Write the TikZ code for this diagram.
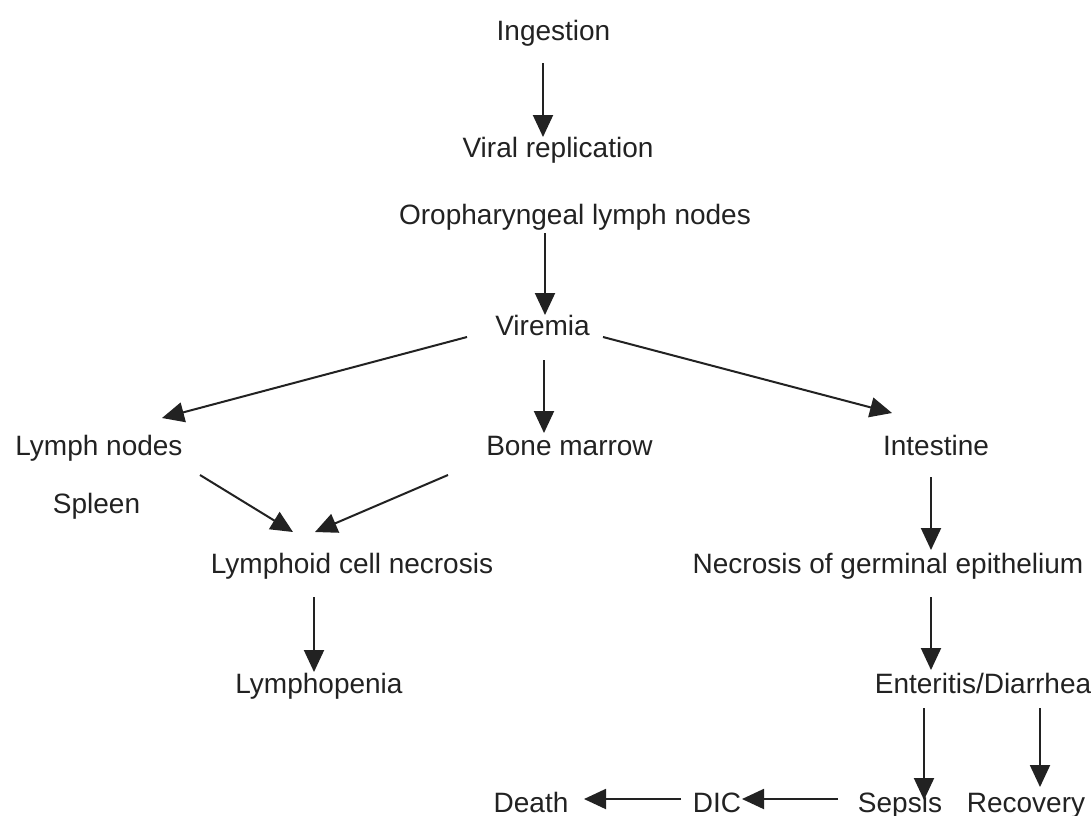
\documentclass[tikz,border=0pt]{standalone}
\usepackage{fontspec}
\setmainfont{Liberation Sans}
\usetikzlibrary{arrows.meta}
\definecolor{ink}{HTML}{222222}
\begin{document}
\begin{tikzpicture}[x=0.5pt,y=-0.5pt,
  lbl/.style={anchor=base,inner sep=0pt,text=ink,font=\fontsize{14pt}{16pt}\selectfont},
  arr/.style={draw=ink,line width=1pt,-{Triangle[length=11pt,width=10pt]}}]
\useasboundingbox[fill=white] (0,0) rectangle (1091,815);
% nodes
\node[lbl] (ing)   at (553.5,40)  {Ingestion};
\node[lbl] (vr)    at (558,157)   {Viral replication};
\node[lbl] (oro)   at (575,224)   {Oropharyngeal lymph nodes};
\node[lbl] (vir)   at (542.5,335) {Viremia};
\node[lbl] (ln)    at (99,455)    {Lymph nodes};
\node[lbl] (bm)    at (569.5,455) {Bone marrow};
\node[lbl] (int)   at (936,455)   {Intestine};
\node[lbl] (spl)   at (96.5,513)  {Spleen};
\node[lbl] (lcn)   at (352,573)   {Lymphoid cell necrosis};
\node[lbl] (nec)   at (888,573)   {Necrosis of germinal epithelium};
\node[lbl] (lp)    at (319,693)   {Lymphopenia};
\node[lbl] (ent)   at (983,693)   {Enteritis/Diarrhea};
\node[lbl] (death) at (531,812)   {Death};
\node[lbl] (dic)   at (717,812)   {DIC};
\node[lbl] (sep)   at (900,812)   {Sepsis};
\node[lbl] (rec)   at (1026,812)  {Recovery};
% connectors
\draw[arr] ([shift={(-10.5,23)}]ing.base) -- ([shift={(-15,-20)}]vr.base);
\draw[arr] ([shift={(-30,9)}]oro.base) -- ([shift={(2.5,-20)}]vir.base);
\draw[arr] ([shift={(-75.5,2)}]vir.base) -- ([shift={(63,-37)}]ln.base);
\draw[arr] ([shift={(60.5,2)}]vir.base) -- ([shift={(-44,-42)}]int.base);
\draw[arr] ([shift={(1.5,25)}]vir.base) -- ([shift={(-25.5,-22)}]bm.base);
\draw[arr] ([shift={(101,20)}]ln.base) -- ([shift={(-59,-41)}]lcn.base);
\draw[arr] ([shift={(-121.5,20)}]bm.base) -- ([shift={(-37,-41)}]lcn.base);
\draw[arr] ([shift={(-38,24)}]lcn.base) -- ([shift={(-5,-21)}]lp.base);
\draw[arr] ([shift={(-5,22)}]int.base) -- ([shift={(43,-23)}]nec.base);
\draw[arr] ([shift={(43,24)}]nec.base) -- ([shift={(-52,-23)}]ent.base);
\draw[arr] ([shift={(-59,15)}]ent.base) -- ([shift={(24,-12)}]sep.base);
\draw[arr] ([shift={(57,15)}]ent.base) -- ([shift={(14,-25)}]rec.base);
\draw[arr] ([shift={(-62,-13)}]sep.base) -- ([shift={(25,-13)}]dic.base);
\draw[arr] ([shift={(-36,-13)}]dic.base) -- ([shift={(53,-13)}]death.base);
\end{tikzpicture}
\end{document}
